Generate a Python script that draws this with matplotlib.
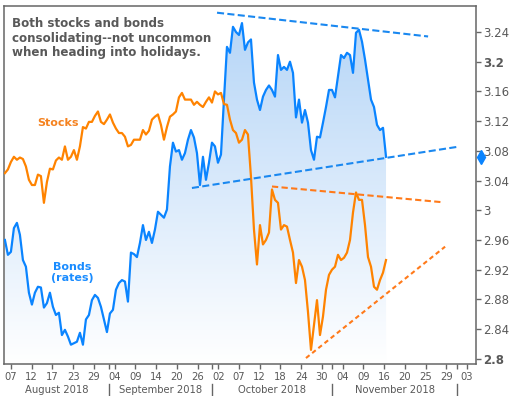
import numpy as np
import matplotlib.pyplot as plt
from matplotlib.colors import LinearSegmentedColormap
import matplotlib.transforms as mtransforms

# x axis: evenly spaced date ticks (position = tick number)
tick_labels = ["07", "12", "17", "23", "29", "04", "09", "14", "20", "26", "02", "07",
               "12", "18", "24", "30", "04", "09", "16", "20", "25", "29", "03"]
month_names = ["August 2018", "September 2018", "October 2018", "November 2018"]
month_edges = [-0.31, 4.73, 9.70, 15.49, 21.51]

y_ticks = [2.8, 2.84, 2.88, 2.92, 2.96, 3.0, 3.04, 3.08, 3.12, 3.16, 3.2, 3.24]
y_labels = ["2.8", "2.84", "2.88", "2.92", "2.96", "3", "3.04", "3.08", "3.12", "3.16", "3.2", "3.24"]

# series sampled on a regular grid from series_start to series_end
series_start, series_end = -0.29, 18.09

bonds = [2.960, 2.940, 2.944, 2.976, 2.983, 2.967, 2.933, 2.924, 2.889, 2.873,
         2.889, 2.897, 2.896, 2.869, 2.875, 2.889, 2.870, 2.859, 2.862, 2.832,
         2.839, 2.830, 2.819, 2.821, 2.823, 2.835, 2.819, 2.853, 2.859, 2.879,
         2.886, 2.882, 2.870, 2.853, 2.836, 2.861, 2.866, 2.893, 2.902, 2.906,
         2.904, 2.877, 2.943, 2.941, 2.937, 2.956, 2.980, 2.960, 2.971, 2.956,
         2.974, 2.998, 2.994, 2.990, 3.001, 3.059, 3.091, 3.079, 3.081, 3.068,
         3.077, 3.095, 3.108, 3.098, 3.077, 3.034, 3.072, 3.041, 3.064, 3.091,
         3.086, 3.064, 3.075, 3.149, 3.220, 3.212, 3.247, 3.240, 3.236, 3.252,
         3.216, 3.226, 3.230, 3.172, 3.149, 3.135, 3.153, 3.162, 3.168, 3.162,
         3.153, 3.209, 3.189, 3.193, 3.189, 3.200, 3.185, 3.125, 3.149, 3.118,
         3.135, 3.118, 3.081, 3.068, 3.099, 3.098, 3.118, 3.139, 3.162, 3.162,
         3.152, 3.180, 3.209, 3.205, 3.212, 3.209, 3.185, 3.239, 3.243, 3.227,
         3.203, 3.176, 3.149, 3.139, 3.115, 3.108, 3.111, 3.072]

# stocks, rescaled onto the rate axis
stocks = [3.050, 3.055, 3.065, 3.072, 3.068, 3.071, 3.069, 3.059, 3.041, 3.034,
          3.034, 3.048, 3.046, 3.010, 3.038, 3.056, 3.055, 3.067, 3.071, 3.068,
          3.086, 3.068, 3.072, 3.081, 3.068, 3.086, 3.112, 3.110, 3.119, 3.119,
          3.127, 3.133, 3.119, 3.116, 3.122, 3.129, 3.118, 3.110, 3.104, 3.104,
          3.099, 3.086, 3.088, 3.095, 3.095, 3.095, 3.108, 3.102, 3.107, 3.122,
          3.126, 3.129, 3.115, 3.095, 3.112, 3.126, 3.129, 3.133, 3.152, 3.158,
          3.149, 3.149, 3.149, 3.142, 3.146, 3.142, 3.139, 3.146, 3.152, 3.145,
          3.160, 3.156, 3.158, 3.143, 3.142, 3.122, 3.108, 3.104, 3.091, 3.095,
          3.108, 3.102, 3.045, 2.974, 2.927, 2.980, 2.954, 2.960, 2.970, 3.028,
          3.014, 3.010, 2.974, 2.980, 2.978, 2.960, 2.943, 2.902, 2.933, 2.924,
          2.906, 2.863, 2.812, 2.846, 2.879, 2.832, 2.857, 2.893, 2.913, 2.920,
          2.924, 2.940, 2.933, 2.936, 2.943, 2.960, 2.997, 3.024, 3.014, 3.014,
          2.980, 2.937, 2.924, 2.897, 2.893, 2.906, 2.916, 2.933]

# dashed trend lines: (x0, x1), (y0, y1)
bond_resistance = ([9.94, 20.12], [3.266, 3.234])
bond_support = ([8.73, 21.56], [3.030, 3.0855])
stock_resistance = ([12.59, 20.74], [3.032, 3.011])
stock_support = ([14.23, 20.94], [2.801, 2.951])

blue = "#0a84ff"
orange = "#ff8300"
grey = "#595959"

fig = plt.figure(figsize=(5.11, 3.96), dpi=100)
ax = fig.add_axes([0.0088, 0.0808, 0.9227, 0.904])

xmin, xmax = -0.31, 22.43
ymin, ymax = 2.793, 3.275

xb = np.linspace(series_start, series_end, len(bonds))
xs = np.linspace(series_start, series_end, len(stocks))

# gradient fill under bonds
poly = ax.fill_between(xb, bonds, ymin, color="none", lw=0)
grad = np.linspace(0, 1, 256).reshape(-1, 1)
cmap = LinearSegmentedColormap.from_list("fade", ["#ffffff", "#b3d4f7"])
im = ax.imshow(grad, extent=[xmin, xmax, ymin, ymax], origin="lower",
               aspect="auto", cmap=cmap, zorder=1)
im.set_clip_path(poly.get_paths()[0], transform=ax.transData)

ax.plot(xb, bonds, color=blue, lw=1.6, zorder=3)
ax.plot(xs, stocks, color=orange, lw=1.6, zorder=4)

for xx, yy in [bond_resistance, bond_support]:
    ax.plot(xx, yy, color="#1a88f0", lw=1.5, dashes=(3.4, 1.6), zorder=5)
ax.plot(*stock_resistance, color="#ff7a1a", lw=1.5, dashes=(3.0, 1.6), zorder=5)
ax.plot(*stock_support, color="#ff7a1a", lw=1.5, dashes=(2.2, 1.6), zorder=5)

# last value marker on the right axis
trans_r = mtransforms.blended_transform_factory(ax.transAxes, ax.transData)
ax.plot([1.011], [bonds[-1]], marker="d", ms=7, color=blue, transform=trans_r,
        clip_on=False, zorder=6)

ax.set_xlim(xmin, xmax)
ax.set_ylim(ymin, ymax)

# axes styling
for s in ax.spines.values():
    s.set_color("#666666")
    s.set_linewidth(1.1)

ax.yaxis.tick_right()
ax.set_yticks(y_ticks)
ax.set_yticklabels(y_labels)
ax.tick_params(axis="y", direction="out", length=3.5, width=1, color="#666666",
               labelsize=8.5, labelcolor=grey, pad=1.5)
for lab in ax.get_yticklabels():
    if lab.get_text() in ("3.2", "2.8"):
        lab.set_fontweight("bold")

ax.set_xticks(range(len(tick_labels)))
ax.set_xticklabels(tick_labels)
ax.set_xticks(month_edges[1:], minor=True)
ax.tick_params(axis="x", which="both", direction="out", length=3.5, width=1,
               color="#666666", labelsize=7.2, labelcolor=grey, pad=2)

trans_b = mtransforms.blended_transform_factory(ax.transData, ax.transAxes)
for i, name in enumerate(month_names):
    mid = (month_edges[i] + month_edges[i + 1]) / 2
    ax.text(mid, -0.073, name, transform=trans_b, ha="center", va="center",
            fontsize=7.2, color=grey)
for edge in month_edges[1:]:
    ax.plot([edge, edge], [-0.056, -0.089], color="#666666", lw=1,
            transform=trans_b, clip_on=False)

# annotations
ax.text(0.016, 0.968, "Both stocks and bonds\nconsolidating--not uncommon\nwhen heading into holidays.",
        transform=ax.transAxes, ha="left", va="top", fontsize=8.6, fontweight="bold",
        color=grey, linespacing=1.15, zorder=7)
ax.text(2.27, 3.118, "Stocks", ha="center", va="center", fontsize=8,
        fontweight="bold", color="#f5821f", zorder=7)
ax.text(2.94, 2.916, "Bonds\n(rates)", ha="center", va="center", fontsize=8,
        fontweight="bold", color="#1a8cff", linespacing=1.05, zorder=7)

fig.savefig("out.png", dpi=100)
